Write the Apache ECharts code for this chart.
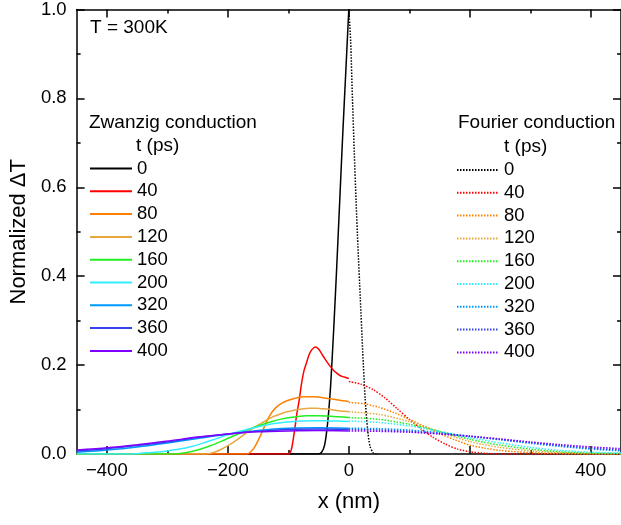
<!DOCTYPE html>
<html>
<head>
<meta charset="utf-8">
<script src="https://cdn.jsdelivr.net/npm/echarts@6/dist/echarts.min.js"></script>
<style>
html,body{margin:0;padding:0;background:#fff;}
#chart{width:621px;height:525px;}
</style>
</head>
<body>
<div id="chart"></div>
<script>
// ---- tick values ----
const xMajorTicks = [-400, -200, 0, 200, 400];
const xMinorTicks = [-300, -100, 100, 300];
const times = ['0', '40', '80', '120', '160', '200', '320', '360', '400'];
const colors = ['#000000', '#ff0000', '#ff8000', '#e8a840', '#22ee22', '#33eeff', '#0099ff', '#3344ee', '#8000ff'];

// ---- Zwanzig conduction (solid, x <= 0) ----
const Z0 = [[-450,0],[-50,0],[-45,0.004],[-40,0.02],[-35,0.07],[-30,0.155],[-25,0.28],[-20,0.42],[-15,0.57],[-10,0.72],[-5,0.86],[0,1.0]];
const Z40 = [[-450,0],[-100,0],[-95,0.01],[-90,0.05],[-86,0.09],[-82,0.121],[-78,0.16],[-74,0.188],[-70,0.205],[-66,0.222],[-62,0.233],[-58,0.239],[-55,0.241],[-50,0.236],[-45,0.226],[-40,0.215],[-35,0.205],[-30,0.196],[-25,0.188],[-20,0.182],[-15,0.177],[-10,0.174],[-5,0.172],[0,0.17]];
const Z80 = [[-450,0],[-168,0],[-162,0.005],[-156,0.015],[-150,0.03],[-145,0.045],[-140,0.06],[-135,0.075],[-130,0.088],[-125,0.098],[-120,0.105],[-110,0.115],[-100,0.121],[-90,0.125],[-80,0.128],[-70,0.129],[-60,0.129],[-50,0.128],[-40,0.126],[-30,0.124],[-20,0.122],[-10,0.12],[0,0.118]];
const Z120 = [[-450,0],[-235,0],[-225,0.003],[-215,0.008],[-205,0.015],[-195,0.023],[-185,0.032],[-175,0.042],[-165,0.052],[-155,0.061],[-145,0.069],[-135,0.077],[-125,0.084],[-115,0.089],[-105,0.094],[-95,0.097],[-85,0.1],[-75,0.102],[-65,0.103],[-55,0.103],[-45,0.102],[-35,0.101],[-25,0.099],[-15,0.097],[-5,0.096],[0,0.095]];
const Z160 = [[-450,0],[-290,0],[-270,0.003],[-250,0.009],[-230,0.018],[-210,0.029],[-190,0.041],[-170,0.053],[-150,0.063],[-130,0.072],[-110,0.079],[-90,0.083],[-70,0.086],[-50,0.086],[-30,0.085],[-10,0.083],[0,0.082]];
const Z200 = [[-450,0],[-360,0],[-340,0.002],[-320,0.004],[-300,0.007],[-280,0.011],[-260,0.017],[-240,0.025],[-220,0.034],[-200,0.043],[-180,0.051],[-160,0.058],[-140,0.064],[-120,0.069],[-100,0.072],[-80,0.074],[-60,0.075],[-40,0.075],[-20,0.074],[0,0.073]];
const Z320 = [[-450,0.004],[-400,0.009],[-350,0.016],[-300,0.025],[-250,0.035],[-200,0.045],[-150,0.053],[-100,0.058],[-50,0.059],[0,0.058]];
const Z360 = [[-450,0.007],[-400,0.012],[-350,0.019],[-300,0.027],[-250,0.037],[-200,0.045],[-150,0.051],[-100,0.055],[-50,0.056],[0,0.055]];
const Z400 = [[-450,0.009],[-400,0.014],[-350,0.021],[-300,0.029],[-250,0.038],[-200,0.045],[-150,0.05],[-100,0.052],[-50,0.053],[0,0.052]];

// ---- Fourier conduction (dotted, x >= 0) ----
const F0 = [[0,1.0],[3,0.93],[6,0.8],[9,0.68],[12,0.57],[15,0.47],[19,0.35],[23,0.23],[27,0.125],[31,0.055],[35,0.018],[40,0.003],[45,0],[50,0]];
const F40 = [[0,0.163],[20,0.157],[40,0.145],[60,0.126],[80,0.102],[100,0.078],[120,0.056],[140,0.037],[160,0.022],[180,0.011],[200,0.005],[220,0.002],[250,0],[450,0]];
const F80 = [[0,0.116],[25,0.113],[50,0.105],[75,0.093],[100,0.078],[125,0.062],[150,0.046],[175,0.032],[200,0.02],[225,0.013],[250,0.008],[300,0.003],[350,0.001],[400,0],[450,0]];
const F120 = [[0,0.095],[50,0.089],[100,0.073],[150,0.05],[200,0.028],[250,0.015],[300,0.007],[350,0.003],[400,0.001],[450,0]];
const F160 = [[0,0.082],[50,0.078],[100,0.067],[150,0.051],[200,0.033],[250,0.02],[300,0.011],[350,0.005],[400,0.002],[450,0.001]];
const F200 = [[0,0.074],[50,0.071],[100,0.063],[150,0.051],[200,0.037],[250,0.025],[300,0.015],[350,0.008],[400,0.004],[450,0.002]];
const F320 = [[0,0.058],[50,0.057],[100,0.054],[150,0.048],[200,0.04],[250,0.032],[300,0.024],[350,0.017],[400,0.011],[450,0.007]];
const F360 = [[0,0.055],[50,0.054],[100,0.051],[150,0.046],[200,0.04],[250,0.033],[300,0.026],[350,0.019],[400,0.013],[450,0.009]];
const F400 = [[0,0.052],[50,0.051],[100,0.049],[150,0.045],[200,0.04],[250,0.034],[300,0.027],[350,0.021],[400,0.016],[450,0.012]];

const zData = [Z0, Z40, Z80, Z120, Z160, Z200, Z320, Z360, Z400];
const fData = [F0, F40, F80, F120, F160, F200, F320, F360, F400];

const FONT = '"Liberation Sans", Arial, sans-serif';
const chart = echarts.init(document.getElementById('chart'), null, {renderer: 'canvas'});

const series = [];
times.forEach((t, i) => {
  series.push({
    name: 'Z' + t, type: 'line', data: zData[i], symbol: 'none', smooth: 0.25,
    xAxisIndex: 0, yAxisIndex: 0, color: colors[i],
    lineStyle: {color: colors[i], width: 1.5, type: 'solid'}, emphasis: {disabled: true}
  });
});
times.forEach((t, i) => {
  series.push({
    name: 'F' + t, type: 'line', data: fData[i], symbol: 'none', smooth: 0.25,
    xAxisIndex: 0, yAxisIndex: 0, color: colors[i],
    lineStyle: {color: colors[i], width: 1.5, type: [1.5, 1.5]}, emphasis: {disabled: true}
  });
});

const axisLineStyle = {color: '#000', width: 1.5};
function xAx(pos, major, extra) {
  return Object.assign({
    type: 'value', position: pos, min: -450, max: 450,
    axisLine: {show: major, onZero: false, lineStyle: axisLineStyle},
    axisTick: {show: true, inside: true, length: major ? 8 : 4, customValues: major ? xMajorTicks : xMinorTicks, lineStyle: axisLineStyle},
    axisLabel: {show: false},
    splitLine: {show: false}
  }, extra || {});
}

const legendCommon = {
  orient: 'vertical', padding: 0,
  itemWidth: 42, itemHeight: 18, itemGap: 3.8, selectedMode: false,
  formatter: n => n.slice(1),
  itemStyle: {color: 'rgba(0,0,0,0)', opacity: 0, borderWidth: 0},
  textStyle: {fontSize: 18.5, color: '#000', fontFamily: FONT}
};

const option = {
  animation: false,
  backgroundColor: '#fff',
  grid: {left: 73, top: 9, right: -4, bottom: 71, containLabel: false},
  xAxis: [
    xAx('bottom', true, {
      axisLabel: {show: true, customValues: xMajorTicks, margin: 7, fontSize: 18.5, color: '#000', fontFamily: FONT,
        formatter: v => (v < 0 ? '\u2212' + Math.abs(v) : String(v))},
      name: 'x (nm)', nameLocation: 'middle', nameGap: 37,
      nameTextStyle: {fontSize: 22, color: '#000', fontFamily: FONT}
    }),
    xAx('bottom', false),
    xAx('top', true),
    xAx('top', false)
  ],
  yAxis: [
    {
      type: 'value', position: 'left', min: 0, max: 1, interval: 0.2,
      axisLine: {show: true, onZero: false, lineStyle: axisLineStyle},
      axisTick: {show: true, inside: true, length: 8, lineStyle: axisLineStyle},
      minorTick: {show: true, splitNumber: 2, length: 4, lineStyle: axisLineStyle},
      axisLabel: {fontSize: 18.5, color: '#000', fontFamily: FONT, margin: 10, formatter: v => v.toFixed(1)},
      splitLine: {show: false},
      name: 'Normalized \u0394T', nameLocation: 'middle', nameGap: 34,
      nameTextStyle: {fontSize: 22, color: '#000', fontFamily: FONT}
    },
    {
      type: 'value', position: 'right', min: 0, max: 1, interval: 0.2,
      axisLine: {show: true, onZero: false, lineStyle: axisLineStyle},
      axisTick: {show: true, inside: true, length: 8, lineStyle: axisLineStyle},
      minorTick: {show: true, splitNumber: 2, length: 4, lineStyle: axisLineStyle},
      axisLabel: {show: false},
      splitLine: {show: false}
    }
  ],
  legend: [
    Object.assign({}, legendCommon, {data: times.map(t => 'Z' + t), left: 89, top: 159}),
    Object.assign({}, legendCommon, {data: times.map(t => 'F' + t), left: 456, top: 160.5})
  ],
  graphic: [
    {type: 'text', left: 90, top: 18.5, style: {text: 'T = 300K', font: '19px ' + FONT, fill: '#000'}},
    {type: 'text', left: 89, top: 113.5, style: {text: 'Zwanzig conduction', font: '19px ' + FONT, fill: '#000'}},
    {type: 'text', left: 136, top: 136.5, style: {text: 't (ps)', font: '19px ' + FONT, fill: '#000'}},
    {type: 'text', left: 458, top: 113.5, style: {text: 'Fourier conduction', font: '19px ' + FONT, fill: '#000'}},
    {type: 'text', left: 504, top: 137.5, style: {text: 't (ps)', font: '19px ' + FONT, fill: '#000'}}
  ],
  series: series
};
chart.setOption(option);
</script>
</body>
</html>
